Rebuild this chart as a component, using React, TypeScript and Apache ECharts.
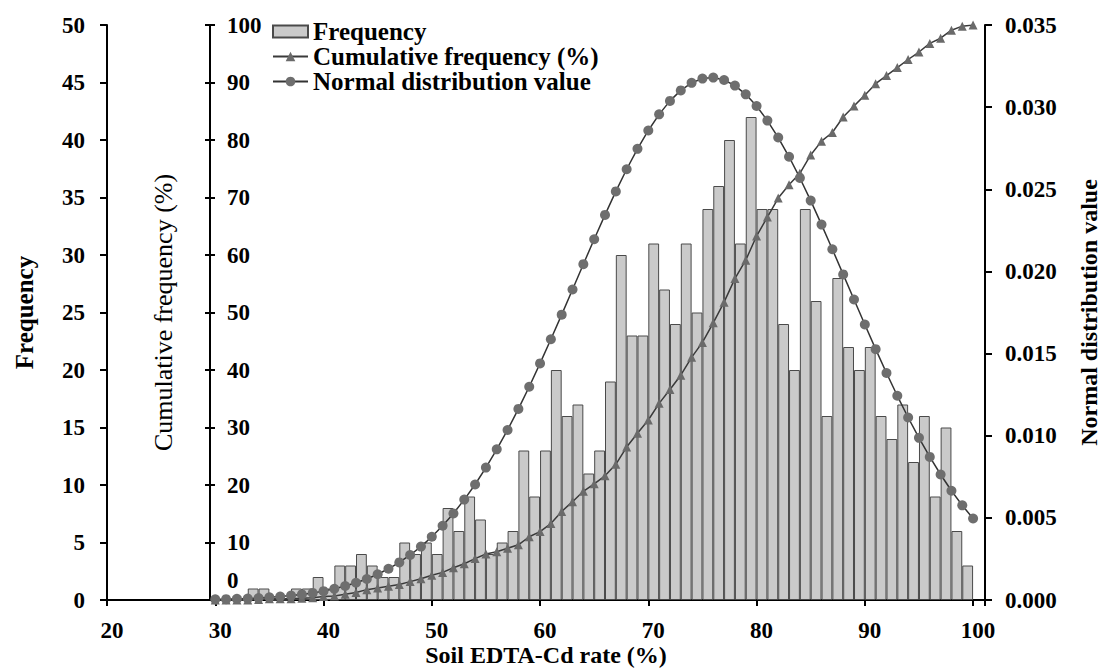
import React, { useEffect, useRef } from "react";
import * as echarts from "echarts";

// Point positions (Soil EDTA-Cd rate, %) — bin edges
const xPoints = [
  30, 31, 32, 33, 34, 35, 36, 37, 38, 39,
  40, 41, 42, 43, 44, 45, 46, 47, 48, 49,
  50, 51, 52, 53, 54, 55, 56, 57, 58, 59,
  60, 61, 62, 63, 64, 65, 66, 67, 68, 69,
  70, 71, 72, 73, 74, 75, 76, 77, 78, 79,
  80, 81, 82, 83, 84, 85, 86, 87, 88, 89,
  90, 91, 92, 93, 94, 95, 96, 97, 98, 99,
  100,
];

// Frequency per 1% bin (bin [x, x+1])
const frequency = [
  0, 0, 0, 1, 1, 0, 0, 1, 1, 2,
  1, 3, 3, 4, 3, 2, 2, 5, 4, 5,
  4, 8, 6, 9, 7, 4, 5, 6, 13, 9,
  13, 20, 16, 17, 11, 13, 19, 30, 23, 23,
  31, 27, 24, 31, 25, 34, 36, 40, 31, 42,
  34, 34, 24, 20, 34, 26, 16, 28, 22, 20,
  22, 16, 14, 17, 12, 16, 9, 15, 6, 3,
];

// Cumulative frequency (%) at each point
const cumulative = [
  0, 0, 0, 0, 0.1, 0.2, 0.2, 0.2, 0.3, 0.4,
  0.6, 0.7, 1.0, 1.3, 1.8, 2.1, 2.4, 2.7, 3.2, 3.7,
  4.3, 4.8, 5.6, 6.3, 7.2, 8.0, 8.4, 9.0, 9.6, 11.0,
  11.9, 13.3, 15.4, 17.1, 18.9, 20.2, 21.6, 23.6, 26.6, 29.0,
  31.3, 34.2, 36.6, 39.1, 42.2, 44.8, 48.2, 51.8, 55.9, 59.1,
  63.3, 66.6, 69.9, 72.2, 74.2, 77.4, 79.8, 81.3, 84.0, 85.9,
  87.8, 89.8, 91.2, 92.6, 94.0, 95.3, 96.8, 97.7, 99.1, 99.8,
  100,
];

// Normal distribution value at each point
const normalValue = [
  0.00004, 0.00005, 0.00007, 0.00009, 0.00012, 0.00016, 0.00021, 0.00027, 0.00034, 0.00043,
  0.00054, 0.00068, 0.00085, 0.00105, 0.00128, 0.00157, 0.0019, 0.00229, 0.00274, 0.00325,
  0.00385, 0.00452, 0.00527, 0.00611, 0.00703, 0.00806, 0.00917, 0.01035, 0.01163, 0.01298,
  0.0144, 0.01587, 0.01737, 0.0189, 0.02044, 0.02196, 0.02344, 0.02487, 0.02622, 0.02746,
  0.02858, 0.02956, 0.03038, 0.03102, 0.03148, 0.03174, 0.0318, 0.03165, 0.03131, 0.03078,
  0.03007, 0.02918, 0.02815, 0.02698, 0.02569, 0.02431, 0.02285, 0.02135, 0.01982, 0.01829,
  0.01677, 0.01527, 0.01382, 0.01243, 0.01111, 0.00987, 0.00871, 0.00764, 0.00665, 0.00576,
  0.00496,
];

const xTickLabels = ["20", "30", "40", "50", "60", "70", "80", "90", "100"];

const FONT = "'Liberation Serif', 'Times New Roman', serif";
const TICK_FS = 23;
const TITLE_FS = 25;

export default function App() {
  const ref = useRef<HTMLDivElement>(null);

  useEffect(() => {
    if (!ref.current) return;
    const chart = echarts.init(ref.current, undefined, { renderer: "svg" });

    const barData = frequency.map((v, i) => [(xPoints[i] + xPoints[i + 1]) / 2, v]);
    const cumData = xPoints.map((x, i) => [x, cumulative[i]]);
    const normData = xPoints.map((x, i) => [x, normalValue[i]]);

    const labelBase = {
      color: "#000",
      fontFamily: FONT,
      fontWeight: "bold" as const,
      fontSize: TICK_FS,
    };

    const option: any = {
      animation: false,
      textStyle: { fontFamily: FONT, color: "#000" },
      grid: {
        left: 107,
        right: 117,
        top: 25,
        bottom: 70,
        containLabel: false,
        outerBoundsMode: "none",
      },
      legend: {
        orient: "vertical",
        left: 267,
        top: 14,
        itemWidth: 35,
        itemHeight: 12,
        itemGap: 0,
        textStyle: {
          fontFamily: FONT,
          fontWeight: "bold",
          fontSize: 25,
          color: "#000",
          lineHeight: 24,
        },
        data: [
          { name: "Frequency", icon: "rect" },
          { name: "Cumulative frequency (%)" },
          { name: "Normal distribution value" },
        ],
      },
      xAxis: {
        type: "value",
        min: 20,
        max: 101.1,
        interval: 10,
        name: "Soil EDTA-Cd rate (%)",
        nameLocation: "middle",
        nameGap: 44,
        nameMoveOverlap: false,
        nameTextStyle: { ...labelBase, fontSize: 24, lineHeight: 22 },
        axisLine: { show: true, lineStyle: { color: "#000", width: 2 } },
        axisTick: { show: true, length: 6, lineStyle: { color: "#000", width: 2 } },
        axisLabel: {
          ...labelBase,
          margin: 19,
          padding: [0, 0, 0, 10],
          formatter: (v: number) => {
            const s = String(Math.round(v));
            return Math.abs(v - Math.round(v)) < 1e-6 && xTickLabels.includes(s) ? s : "";
          },
        },
        splitLine: { show: false },
      },
      yAxis: [
        {
          type: "value",
          position: "left",
          min: 0,
          max: 50,
          interval: 5,
          name: "Frequency",
          nameLocation: "middle",
          nameGap: 70,
          nameRotate: 90,
          nameTextStyle: { ...labelBase, fontSize: TITLE_FS },
          axisLine: { show: true, lineStyle: { color: "#000", width: 2 } },
          axisTick: { show: true, length: 7, lineStyle: { color: "#000", width: 2 } },
          axisLabel: { ...labelBase, margin: 22 },
          splitLine: { show: false },
        },
        {
          type: "value",
          position: "left",
          offset: -103,
          min: 0,
          max: 100,
          interval: 10,
          name: "Cumulative frequency (%)",
          nameLocation: "middle",
          nameGap: 34,
          nameRotate: 90,
          nameTextStyle: {
            color: "#000",
            fontFamily: FONT,
            fontWeight: "normal",
            fontSize: 26,
          },
          axisLine: { show: true, lineStyle: { color: "#000", width: 2 } },
          axisTick: { show: true, length: 5, lineStyle: { color: "#000", width: 2 } },
          axisLabel: {
            ...labelBase,
            inside: true,
            margin: 17,
            formatter: (v: number) => (v === 0 ? "{z|0}" : String(v)),
            rich: {
              z: { ...labelBase, padding: [0, 0, 40, 0] },
            },
          },
          splitLine: { show: false },
        },
        {
          type: "value",
          position: "right",
          min: 0,
          max: 0.035,
          interval: 0.005,
          name: "Normal distribution value",
          nameLocation: "middle",
          nameGap: 94,
          nameRotate: 90,
          nameTextStyle: { ...labelBase, fontSize: 24, lineHeight: 20 },
          axisLine: { show: true, lineStyle: { color: "#000", width: 2 } },
          axisTick: { show: true, length: 7, lineStyle: { color: "#000", width: 2 } },
          axisLabel: { ...labelBase, margin: 20, formatter: (v: number) => v.toFixed(3) },
          splitLine: { show: false },
        },
        {
          // inner half of the crossing ticks on the cumulative axis
          type: "value",
          position: "left",
          offset: -103,
          min: 0,
          max: 100,
          interval: 10,
          axisLine: { show: false },
          axisTick: { show: true, inside: true, length: 5, lineStyle: { color: "#000", width: 2 } },
          axisLabel: { show: false },
          splitLine: { show: false },
        },
      ],
      series: [
        {
          name: "Frequency",
          type: "bar",
          xAxisIndex: 0,
          yAxisIndex: 0,
          barWidth: 10.8,
          data: barData,
          itemStyle: { color: "#cacaca", borderColor: "#4a4a4a", borderWidth: 1 },
        },
        {
          name: "Cumulative frequency (%)",
          type: "line",
          xAxisIndex: 0,
          yAxisIndex: 1,
          data: cumData,
          symbol: "triangle",
          symbolSize: 9,
          itemStyle: { color: "#6a6a6a" },
          lineStyle: { color: "#3a3a3a", width: 1.5 },
        },
        {
          name: "Normal distribution value",
          type: "line",
          xAxisIndex: 0,
          yAxisIndex: 2,
          data: normData,
          symbol: "circle",
          symbolSize: 10,
          itemStyle: { color: "#6e6e6e" },
          lineStyle: { color: "#333333", width: 1.5 },
        },
      ],
    };

    chart.setOption(option);
    return () => chart.dispose();
  }, []);

  return (
    <div
      ref={ref}
      style={{ position: "fixed", left: 0, top: 0, width: 1102, height: 670, background: "#fff" }}
    />
  );
}
